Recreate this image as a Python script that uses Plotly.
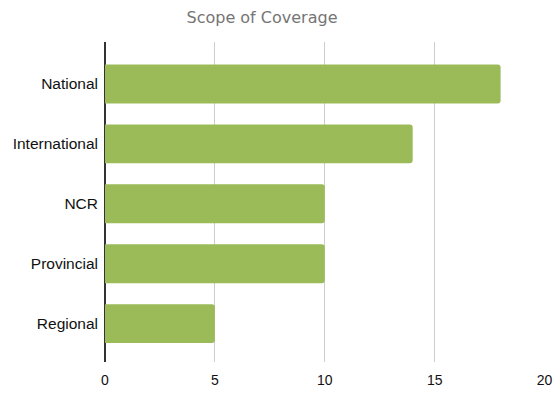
import plotly.graph_objects as go

# Coverage counts by scope
categories = ["National", "International", "NCR", "Provincial", "Regional"]
counts = [18, 14, 10, 10, 5]
x_ticks = [0, 5, 10, 15, 20]

LABEL_FONT = "Arial, 'Liberation Sans', sans-serif"

fig = go.Figure(
    go.Bar(
        x=counts,
        y=categories,
        orientation="h",
        width=0.65,
        marker=dict(color="#9bbb59", cornerradius=3, line=dict(width=0)),
        hoverinfo="x+y",
    )
)

fig.update_layout(
    width=554,
    height=393,
    margin=dict(l=105, r=9, t=42, b=31, autoexpand=False),
    paper_bgcolor="white",
    plot_bgcolor="white",
    showlegend=False,
    title=dict(
        text="Scope of Coverage",
        x=262 / 554,
        xanchor="center",
        xref="container",
        y=1 - 17 / 393,
        yref="container",
        yanchor="middle",
        font=dict(family="DejaVu Sans", size=16, color="#757575"),
    ),
    xaxis=dict(
        range=[0, 20.02],
        tickvals=x_ticks,
        ticktext=[str(v) for v in x_ticks],
        showgrid=True,
        gridcolor="#cccccc",
        gridwidth=1,
        zeroline=True,
        zerolinecolor="#333333",
        zerolinewidth=1.5,
        showline=False,
        ticks="",
        ticklabelstandoff=8,
        automargin=False,
        tickfont=dict(family=LABEL_FONT, size=14, color="#111111"),
        fixedrange=True,
    ),
    yaxis=dict(
        categoryorder="array",
        categoryarray=categories,
        autorange=False,
        range=[4.64, -0.7],
        showgrid=False,
        zeroline=False,
        showline=False,
        ticks="",
        ticklabelstandoff=6,
        automargin=False,
        tickfont=dict(family=LABEL_FONT, size=15.5, color="#111111"),
        fixedrange=True,
    ),
)

fig.write_html("out.html")
